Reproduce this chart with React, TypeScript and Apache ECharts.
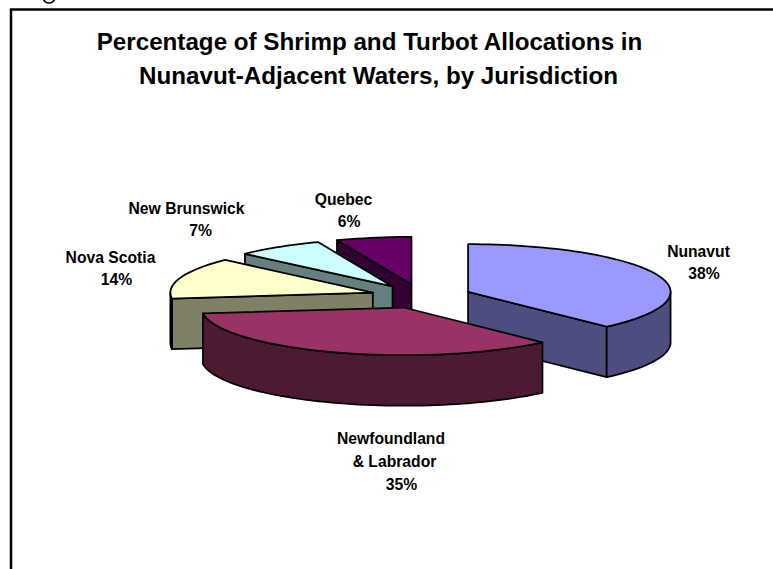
import React, { useEffect, useRef } from "react";
import * as echarts from "echarts";

const titleLines = [
  "Percentage of Shrimp and Turbot Allocations in",
  "Nunavut-Adjacent Waters, by Jurisdiction",
];
const jurisdictions = ["Nunavut", "Newfoundland & Labrador", "Nova Scotia", "New Brunswick", "Quebec"];
const percentages = [38, 35, 14, 7, 6];
const topColors = ["#9999FF", "#993366", "#FFFFCC", "#CCFFFF", "#660066"];
const sideColors = ["#4D4D80", "#4D1A33", "#808066", "#668080", "#330033"];
const labelTexts = [
  ["Nunavut", "38%"],
  ["Newfoundland", "& Labrador", "35%"],
  ["Nova Scotia", "14%"],
  ["New Brunswick", "7%"],
  ["Quebec", "6%"],
];

// Layout only
const CX = 421, CY = 296.3, RX = 202.5, RY = 47.7, DEPTH = 50.5, EXPLODE = 0.25;
const paintRank = [3, 4, 2, 1, 0]; // back-to-front order per slice
const labelPos = [
  [[698.5, 251], [704, 273]],
  [[391, 438], [394.5, 461], [401.5, 484]],
  [[110.5, 257], [116.5, 279]],
  [[186.5, 208], [200.5, 230]],
  [[343.5, 199], [349, 221]],
];
const FONT = "bold 15.7px 'Liberation Sans', Arial, sans-serif";

const total = percentages.reduce((a, b) => a + b, 0);
const starts: number[] = [];
percentages.reduce((acc, v, i) => {
  starts[i] = acc;
  return acc + (v / total) * 360;
}, 0);

const rad = (d: number) => (d * Math.PI) / 180;

function renderSlice(params: any, api: any) {
  const i = params.dataIndex as number;
  const sweep = (api.value(0) / total) * 360;
  const a0 = starts[i];
  const a1 = a0 + sweep;
  const mid = (a0 + a1) / 2;
  const cx = CX + EXPLODE * RX * Math.sin(rad(mid));
  const cy = CY - EXPLODE * RY * Math.cos(rad(mid));
  const pt = (a: number): number[] => [cx + RX * Math.sin(rad(a)), cy - RY * Math.cos(rad(a))];
  const down = (p: number[]): number[] => [p[0], p[1] + DEPTH];
  const arc = (from: number, to: number): number[][] => {
    const out: number[][] = [];
    const n = Math.max(2, Math.ceil((to - from) / 2));
    for (let k = 0; k <= n; k++) out.push(pt(from + ((to - from) * k) / n));
    return out;
  };
  const stroke = { stroke: "#000", lineWidth: 1.75, lineJoin: "round" as const };
  const children: any[] = [];
  const z = paintRank[i] * 10;

  // Cut faces that look towards the viewer
  const apex = [cx, cy];
  const inner = pt(mid);
  [a0, a1].forEach((a) => {
    const p = pt(a);
    if (Math.abs(p[0] - apex[0]) < 1) return;
    const edgeY = apex[1] + ((p[1] - apex[1]) * (inner[0] - apex[0])) / (p[0] - apex[0]);
    if (inner[1] < edgeY) {
      children.push({
        type: "polygon", z2: z + 1,
        shape: { points: [apex, p, down(p), down(apex)] },
        style: { fill: sideColors[i], ...stroke },
      });
    }
  });

  // Outer wall, the part that faces the viewer
  const w0 = Math.max(a0, 90), w1 = Math.min(a1, 270);
  if (w1 > w0) {
    const top = arc(w0, w1);
    children.push({
      type: "polygon", z2: z + 2,
      shape: { points: [...top, ...top.slice().reverse().map(down)] },
      style: { fill: sideColors[i], ...stroke },
    });
  }

  // Top face
  children.push({
    type: "polygon", z2: z + 3,
    shape: { points: [apex, ...arc(a0, a1)] },
    style: { fill: topColors[i], ...stroke },
  });

  // Data label
  labelTexts[i].forEach((line, k) => {
    children.push({
      type: "text", z2: 100,
      style: {
        text: line, x: labelPos[i][k][0], y: labelPos[i][k][1],
        font: FONT, fill: "#000", align: "center", verticalAlign: "middle",
      },
    });
  });
  return { type: "group", children };
}

export default function App() {
  const ref = useRef<HTMLDivElement>(null);
  useEffect(() => {
    const chart = echarts.init(ref.current!, undefined, { renderer: "svg" });
    const titleStyle = {
      fontFamily: "'Liberation Sans', Arial, sans-serif",
      fontWeight: "bold" as const, fontSize: 24.2, color: "#000",
    };
    chart.setOption({
      animation: false,
      backgroundColor: "#fff",
      title: [
        { text: titleLines[0], left: 369.5, top: 29, textAlign: "center", padding: 0, textStyle: titleStyle },
        { text: titleLines[1], left: 378.5, top: 63, textAlign: "center", padding: 0, textStyle: titleStyle },
      ],
      graphic: [
        { type: "line", shape: { x1: 10, y1: 9.5, x2: 773, y2: 9.5 }, style: { stroke: "#000", lineWidth: 2.5 } },
        { type: "line", shape: { x1: 11, y1: 9, x2: 11, y2: 569 }, style: { stroke: "#000", lineWidth: 2.5 } },
        { type: "arc", shape: { cx: 49, cy: -3, r: 6, startAngle: 0.3, endAngle: 2.84 }, style: { stroke: "#000", fill: "none", lineWidth: 1.5 } },
      ],
      series: [
        {
          type: "custom",
          coordinateSystem: "none",
          renderItem: renderSlice,
          data: jurisdictions.map((name, i) => ({ name, value: [percentages[i]] })),
        },
      ],
    });
    return () => chart.dispose();
  }, []);
  return (
    <div
      ref={ref}
      style={{ position: "fixed", left: 0, top: 0, width: 773, height: 569, background: "#fff" }}
    />
  );
}
